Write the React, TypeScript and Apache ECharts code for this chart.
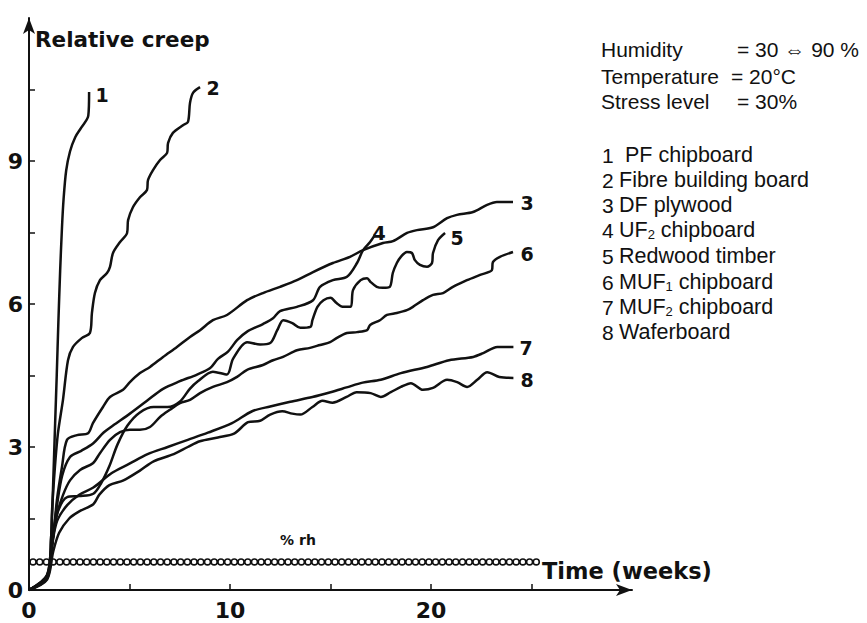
import React, { useEffect, useRef } from "react";
import * as echarts from "echarts";

// ---- axis ticks / labels ----
const weekTicks = [0, 5, 10, 15, 20, 25];
const weekLabels = [0, 10, 20];
const creepTicks = [0, 1.5, 3, 4.5, 6, 7.5, 9, 10.5];
const creepLabels = [0, 3, 6, 9];

// ---- curves: [weeks, relative creep] ----
const curve1 = [[0,0],[0.9,0.32],[1.1,1.1],[1.2,2.2],[1.3,3.5],[1.38,4.5],[1.46,5.6],[1.55,6.7],[1.64,7.6],[1.72,8.2],[1.85,8.8],[2.04,9.2],[2.3,9.5],[2.6,9.7],[2.95,9.95],[2.99,10.45]];
const curve2 = [[0,0],[0.9,0.3],[1.1,1.1],[1.14,1.62],[1.29,2.58],[1.44,3.29],[1.69,3.99],[1.94,4.82],[2.19,5.1],[2.64,5.29],[3.03,5.39],[3.13,5.81],[3.28,6.23],[3.53,6.5],[3.88,6.65],[4.03,6.78],[4.18,7.07],[4.53,7.3],[4.88,7.49],[4.93,7.76],[5.17,8.03],[5.52,8.24],[5.87,8.39],[5.92,8.6],[6.17,8.81],[6.52,9.02],[6.87,9.17],[6.92,9.38],[7.16,9.59],[7.66,9.75],[7.91,9.82],[8.01,10.22],[8.16,10.43],[8.51,10.55]];
const curve3 = [[0,0],[0.9,0.3],[1.19,1.05],[1.39,1.89],[1.64,2.58],[1.89,3.15],[2.39,3.25],[2.94,3.29],[3.18,3.5],[3.68,3.84],[4.03,4.05],[4.68,4.2],[5.02,4.36],[5.52,4.55],[6.02,4.68],[6.67,4.89],[7.36,5.1],[8.01,5.31],[8.51,5.45],[9.15,5.66],[9.85,5.77],[10.85,6.08],[11.64,6.23],[12.49,6.36],[13.33,6.5],[14.13,6.67],[15.12,6.86],[15.97,6.99],[16.62,7.13],[17.61,7.28],[18.11,7.32],[18.81,7.49],[19.3,7.55],[20.1,7.61],[20.8,7.8],[21.29,7.87],[22.09,7.93],[22.79,8.08],[23.28,8.14],[24.08,8.14]];
const curve4 = [[0,0],[0.9,0.28],[1.17,1.05],[1.4,1.8],[1.65,2.4],[2.04,2.79],[2.6,2.92],[3.2,3.08],[3.7,3.3],[4.18,3.45],[5.02,3.7],[5.87,3.97],[6.67,4.22],[7.51,4.38],[8.36,4.52],[9.0,4.65],[9.4,4.85],[9.9,5.0],[10.35,5.24],[10.85,5.42],[11.64,5.58],[12.14,5.7],[12.49,5.85],[13.33,5.94],[14.13,6.08],[14.48,6.36],[15.12,6.5],[15.82,6.57],[16.32,6.86],[16.62,7.13],[16.97,7.3],[17.21,7.45]];
const curve5 = [[0,0],[0.9,0.27],[1.15,1.0],[1.4,1.6],[1.9,1.95],[2.5,1.97],[3.2,2.02],[3.6,2.25],[4.0,2.6],[4.4,3.05],[4.9,3.45],[5.5,3.72],[6.2,3.84],[6.9,3.84],[7.5,3.95],[8.0,4.22],[8.4,4.38],[9.15,4.58],[9.85,4.52],[10.15,4.85],[10.85,5.2],[11.5,5.15],[12.0,5.18],[12.35,5.45],[12.65,5.66],[13.1,5.6],[13.5,5.5],[14.0,5.52],[14.1,5.66],[14.35,5.94],[14.65,6.08],[15.0,6.13],[15.3,6.02],[15.6,5.94],[16.0,5.94],[16.12,6.29],[16.5,6.5],[16.82,6.54],[17.0,6.46],[17.3,6.36],[17.6,6.34],[17.95,6.36],[18.1,6.65],[18.3,6.86],[18.5,6.99],[18.8,7.09],[19.05,7.07],[19.2,6.92],[19.45,6.82],[19.8,6.78],[20.05,6.86],[20.1,7.07],[20.35,7.34],[20.7,7.49]];
const curve6 = [[0,0],[0.9,0.26],[1.15,1.0],[1.4,1.6],[1.7,2.0],[2.04,2.3],[2.54,2.52],[3.18,2.66],[3.53,2.87],[4.03,3.15],[4.53,3.31],[5.02,3.36],[5.52,3.36],[6.02,3.42],[6.52,3.63],[7.01,3.78],[7.51,3.92],[8.01,3.99],[8.51,4.13],[9.15,4.26],[9.85,4.36],[10.35,4.47],[10.85,4.62],[11.64,4.72],[12.14,4.82],[12.64,4.89],[13.33,5.03],[13.98,5.08],[14.48,5.14],[14.98,5.2],[15.32,5.29],[15.82,5.39],[16.32,5.41],[16.82,5.45],[16.97,5.56],[17.46,5.66],[17.81,5.77],[18.3,5.81],[18.8,5.87],[19.1,5.94],[19.6,6.08],[20.1,6.19],[20.6,6.23],[21.09,6.36],[21.79,6.5],[22.44,6.61],[23.03,6.71],[23.08,6.88],[23.43,6.99],[24.08,7.09]];
const curve7 = [[0,0],[0.9,0.24],[1.15,0.95],[1.4,1.45],[1.9,1.78],[2.5,2.0],[3.2,2.15],[4.1,2.45],[5.0,2.65],[5.9,2.85],[6.9,3.0],[7.9,3.15],[8.9,3.3],[10.1,3.5],[11.1,3.75],[12.0,3.85],[13.0,3.95],[14.1,4.05],[15.0,4.15],[15.8,4.25],[16.6,4.35],[17.5,4.41],[18.5,4.55],[19.8,4.68],[20.9,4.82],[22.1,4.89],[22.6,4.97],[23.3,5.1],[24.1,5.1]];
const curve8 = [[0,0],[0.9,0.22],[1.2,0.8],[1.5,1.2],[2.0,1.5],[2.5,1.65],[3.2,1.8],[3.5,2.0],[4.0,2.2],[4.7,2.3],[5.5,2.5],[6.2,2.7],[7.2,2.85],[7.9,3.0],[8.5,3.12],[9.4,3.2],[10.2,3.28],[10.9,3.52],[11.5,3.55],[12.0,3.68],[12.6,3.75],[13.1,3.7],[13.5,3.68],[14.1,3.84],[14.6,3.97],[15.1,3.93],[15.8,4.05],[16.3,4.15],[17.0,4.13],[17.5,4.05],[18.0,4.15],[18.5,4.26],[19.0,4.34],[19.6,4.2],[20.1,4.24],[20.8,4.41],[21.3,4.36],[21.8,4.26],[22.3,4.41],[22.8,4.57],[23.4,4.47],[24.1,4.45]];

// humidity cycling trace (%rh) – start/end weeks and drawn level
const rhWeeks = [0.2, 25.3];
const rhLevel = 0.59;

const curveNames = ["1", "2", "3", "4", "5", "6", "7", "8"];
const conditions = [
  ["Humidity", "= 30 \u21D4 90 %"],
  ["Temperature", "= 20\u00B0C"],
  ["Stress level", "= 30%"],
];
// [number, text before subscript, subscript, text after]
const materials = [
  ["1", "PF chipboard", "", ""],
  ["2", "Fibre building board", "", ""],
  ["3", "DF plywood", "", ""],
  ["4", "UF", "2", " chipboard"],
  ["5", "Redwood timber", "", ""],
  ["6", "MUF", "1", " chipboard"],
  ["7", "MUF", "2", " chipboard"],
  ["8", "Waferboard", "", ""],
];

const INK = "#111";
const SANS = "'Liberation Sans', 'DejaVu Sans', Arial, sans-serif";
const BOLD = "'DejaVu Sans', 'Liberation Sans', sans-serif";

export default function App() {
  const ref = useRef<HTMLDivElement>(null);
  useEffect(() => {
    if (!ref.current) return;
    const chart = echarts.init(ref.current, undefined, { renderer: "svg" });
    const curves = [curve1, curve2, curve3, curve4, curve5, curve6, curve7, curve8];
    const lineSeries: any[] = curves.map((d, i) => ({
      type: "line",
      name: curveNames[i],
      data: d,
      symbol: "none",
      smooth: 0.3,
      lineStyle: { color: INK, width: 2.5 },
      z: 3,
    }));
    const rhData = rhWeeks.map((w) => [w, rhLevel]);
    lineSeries.push({
      type: "line",
      data: rhData,
      symbol: "none",
      lineStyle: { color: INK, width: 7.5, type: [0.01, 6.7], cap: "round" },
      z: 2,
    });
    lineSeries.push({
      type: "line",
      data: rhData,
      symbol: "none",
      lineStyle: { color: "#fff", width: 4.4, type: [0.01, 6.7], cap: "round" },
      z: 2,
    });

    const labelPos = [
      [102, 95], [213, 88], [527, 203], [379, 233], [457, 238], [527, 254], [526, 348], [527, 380],
    ];
    const graphics: any[] = [];
    labelPos.forEach((p, i) => {
      graphics.push({
        type: "text", x: p[0], y: p[1], z: 10,
        style: { text: curveNames[i], font: `bold 19px ${BOLD}`, fill: INK, align: "center", verticalAlign: "middle" },
      });
    });
    graphics.push({
      type: "text", x: 35, y: 39, z: 10,
      style: { text: "Relative creep", font: `bold 21.5px ${BOLD}`, fill: INK, align: "left", verticalAlign: "middle" },
    });
    graphics.push({
      type: "text", x: 542, y: 571, z: 10,
      style: { text: "Time (weeks)", font: `bold 22.5px ${BOLD}`, fill: INK, align: "left", verticalAlign: "middle" },
    });
    graphics.push({
      type: "text", x: 298, y: 540, z: 10,
      style: { text: "% rh", font: `bold 14px ${BOLD}`, fill: INK, align: "center", verticalAlign: "middle" },
    });
    const condY = [49, 76, 101];
    const condX = [737, 731, 737];
    conditions.forEach((c, i) => {
      graphics.push({
        type: "text", x: 601, y: condY[i], z: 10,
        style: { text: c[0], font: `21px ${SANS}`, fill: INK, align: "left", verticalAlign: "middle" },
      });
      graphics.push({
        type: "text", x: condX[i], y: condY[i], z: 10,
        style: { text: c[1], font: `21px ${SANS}`, fill: INK, align: "left", verticalAlign: "middle" },
      });
    });
    const matY = [155, 180, 205, 230, 256, 282, 307, 332];
    materials.forEach((m, i) => {
      graphics.push({
        type: "text", x: 602, y: matY[i], z: 10,
        style: { text: m[0], font: `21px ${SANS}`, fill: INK, align: "left", verticalAlign: "middle" },
      });
      const txt = m[2]
        ? `{t|${m[1]}}{s|${m[2]}}{t|${m[3]}}`
        : `{t|${m[1]}}`;
      graphics.push({
        type: "text", x: i === 0 ? 625 : 619, y: matY[i], z: 10,
        style: {
          text: txt,
          fill: INK,
          align: "left",
          verticalAlign: "middle",
          rich: {
            t: { fontSize: 21.5, fontFamily: SANS, lineHeight: 22, verticalAlign: "bottom", fill: INK },
            s: { fontSize: 13, fontFamily: SANS, lineHeight: 9, verticalAlign: "bottom", fill: INK },
          },
        },
      });
    });

    chart.setOption({
      animation: false,
      backgroundColor: "#fff",
      grid: { left: 29, top: 18, right: 235, bottom: 33, containLabel: false },
      xAxis: {
        type: "value",
        min: 0,
        max: 30,
        axisLine: { show: true, onZero: false, lineStyle: { color: INK, width: 2 }, symbol: ["none", "arrow"], symbolSize: [9, 16] },
        axisTick: { show: true, inside: true, length: 6, lineStyle: { color: INK, width: 1.5 }, customValues: weekTicks },
        axisLabel: { customValues: weekLabels, color: INK, fontSize: 22, fontWeight: "bold", fontFamily: BOLD, margin: 9 },
        splitLine: { show: false },
      },
      yAxis: {
        type: "value",
        min: 0,
        max: 12,
        axisLine: { show: true, onZero: false, lineStyle: { color: INK, width: 2 }, symbol: ["none", "arrow"], symbolSize: [9, 16] },
        axisTick: { show: true, inside: true, length: 6, lineStyle: { color: INK, width: 1.5 }, customValues: creepTicks },
        axisLabel: { customValues: creepLabels, color: INK, fontSize: 22, fontWeight: "bold", fontFamily: BOLD, margin: 6 },
        splitLine: { show: false },
      },
      series: lineSeries,
      graphic: graphics,
    });
    return () => chart.dispose();
  }, []);
  return (
    <div
      ref={ref}
      style={{ position: "fixed", left: 0, top: 0, width: 867, height: 623, background: "#fff" }}
    />
  );
}
